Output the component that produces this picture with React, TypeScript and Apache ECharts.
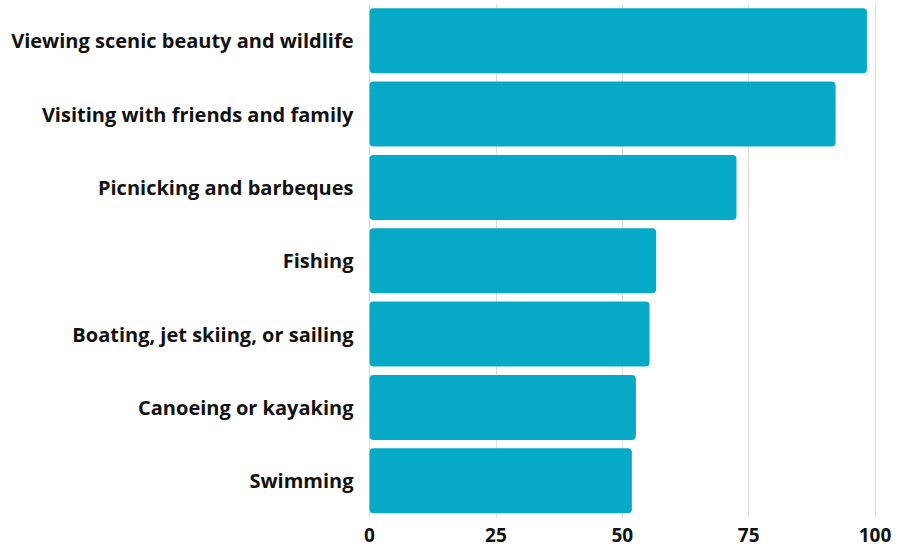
import React, { useEffect, useRef } from "react";
import * as echarts from "echarts";

const categories = [
  "Viewing scenic beauty and wildlife",
  "Visiting with friends and family",
  "Picnicking and barbeques",
  "Fishing",
  "Boating, jet skiing, or sailing",
  "Canoeing or kayaking",
  "Swimming",
];
const values = [98.4, 92.2, 72.6, 56.7, 55.4, 52.7, 51.9];
const xTicks = [0, 25, 50, 75, 100];

export default function App() {
  const ref = useRef<HTMLDivElement>(null);
  useEffect(() => {
    if (!ref.current) return;
    const chart = echarts.init(ref.current, null, { renderer: "svg" });
    chart.setOption({
      animation: false,
      grid: { left: 369.5, right: 31, top: 4, bottom: 30.5, containLabel: false },
      xAxis: {
        type: "value",
        min: xTicks[0],
        max: xTicks[xTicks.length - 1],
        interval: 25,
        axisLine: { show: false },
        axisTick: { show: false },
        splitLine: { show: true, lineStyle: { color: "#dcdcdc", width: 1 } },
        axisLabel: {
          color: "#111",
          fontFamily: "Open Sans",
          fontWeight: "bold",
          fontSize: 19,
          lineHeight: 20,
          margin: 7,
        },
      },
      yAxis: {
        type: "category",
        inverse: true,
        data: categories,
        axisLine: { show: false },
        axisTick: { show: false },
        axisLabel: {
          color: "#111",
          fontFamily: "Open Sans",
          fontWeight: "bold",
          fontSize: 20,
          margin: 16,
        },
      },
      series: [
        {
          type: "bar",
          data: values,
          barCategoryGap: "11.4%",
          itemStyle: { color: "#06aac6", borderRadius: 4 },
        },
      ],
    });
    return () => chart.dispose();
  }, []);
  return <div ref={ref} style={{ width: 906, height: 548, position: "absolute", left: 0, top: 0 }} />;
}
